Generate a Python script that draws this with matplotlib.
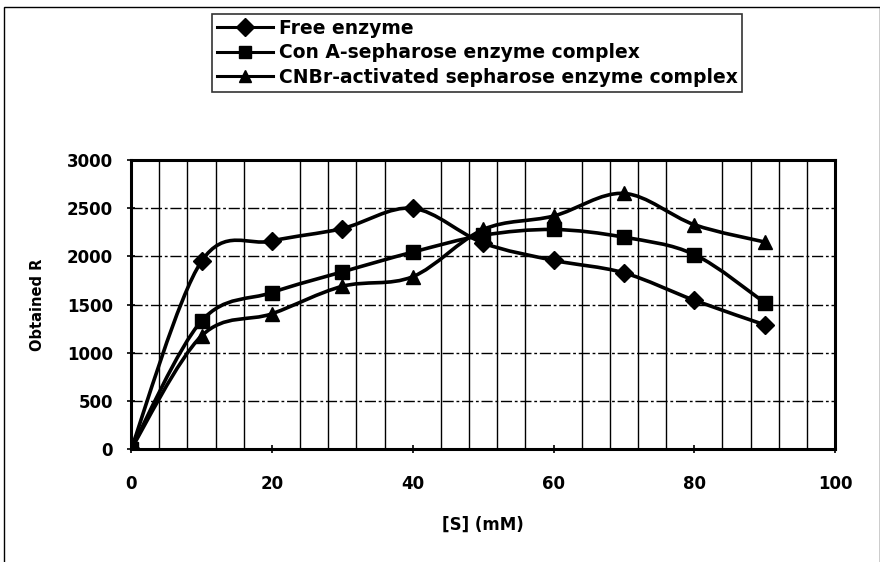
import numpy as np
import matplotlib.pyplot as plt
from matplotlib.path import Path
from matplotlib.patches import PathPatch, Rectangle
from matplotlib.lines import Line2D

plt.rcParams['font.family'] = ['DejaVu Sans']
plt.rcParams['font.weight'] = 'bold'

# data
s_mm = [0, 10, 20, 30, 40, 50, 60, 70, 80, 90]
free_enzyme = [0, 1950, 2160, 2290, 2500, 2140, 1960, 1830, 1545, 1290]
con_a = [0, 1330, 1625, 1840, 2045, 2220, 2280, 2200, 2020, 1520]
cnbr = [0, 1175, 1405, 1690, 1790, 2280, 2420, 2655, 2330, 2150]
labels = ['Free enzyme', 'Con A-sepharose enzyme complex',
          'CNBr-activated sepharose enzyme complex']
markers = ['D', 's', '^']


# Excel style smoothed line: bezier through the points
def smooth_path(x, y):
    p = np.column_stack([x, y]).astype(float)
    verts = [p[0]]
    codes = [Path.MOVETO]
    n = len(p)
    for i in range(n - 1):
        p0 = p[i - 1] if i > 0 else p[i]
        p3 = p[i + 2] if i + 2 < n else p[i + 1]
        c1 = p[i] + (p[i + 1] - p0) / 6
        c2 = p[i + 1] - (p3 - p[i]) / 6
        verts += [c1, c2, p[i + 1]]
        codes += [Path.CURVE4] * 3
    return Path(verts, codes)


fig = plt.figure(figsize=(8.8, 5.62), dpi=100)
ax = fig.add_axes([0.149, 0.201, 0.800, 0.514])

ax.set_xlim(0, 100)
ax.set_ylim(0, 3000)
ax.set_xticks(range(0, 101, 20))
ax.set_yticks(range(0, 3001, 500))
ax.set_xticks(np.arange(0, 101, 4), minor=True)
ax.tick_params(which='minor', length=0)
ax.tick_params(which='major', length=6, width=1.2, direction='inout', labelsize=12)
ax.tick_params(axis='y', pad=10)
ax.tick_params(axis='x', pad=16)
ax.grid(which='minor', axis='x', color='black', linewidth=1.0)
ax.grid(which='major', axis='y', color='black', linewidth=1.0, linestyle=(0, (8, 2, 2, 2)))
for sp in ax.spines.values():
    sp.set_linewidth(2.2)

for yv, m in zip([free_enzyme, con_a, cnbr], markers):
    ax.add_patch(PathPatch(smooth_path(s_mm, yv), facecolor='none',
                           edgecolor='black', linewidth=2.6, zorder=3))
    ax.plot(s_mm, yv, linestyle='none', marker=m, color='black',
            markersize=10 if m != 'D' else 9, zorder=4)

ax.set_xlabel('[S] (mM)', fontsize=12, fontweight='bold', labelpad=16)
ax.set_ylabel('Obtained R', fontsize=10.5, fontweight='bold', labelpad=16)

handles = [Line2D([], [], color='black', linewidth=2.2, marker=m, markersize=9)
           for m in markers]
leg = fig.legend(handles, labels, loc='upper left', bbox_to_anchor=(0.241, 0.975),
                 frameon=True, fancybox=False, edgecolor='black', fontsize=13.5,
                 handlelength=3.0, handletextpad=0.3, labelspacing=0.3,
                 borderpad=0.25, borderaxespad=0)
leg.get_frame().set_linewidth(1.2)

# outer chart border
fig.patches.append(Rectangle((0.005, -0.01), 0.995, 0.998, transform=fig.transFigure,
                             fill=False, edgecolor='black', linewidth=1.0))

fig.savefig('out.png', dpi=100)
